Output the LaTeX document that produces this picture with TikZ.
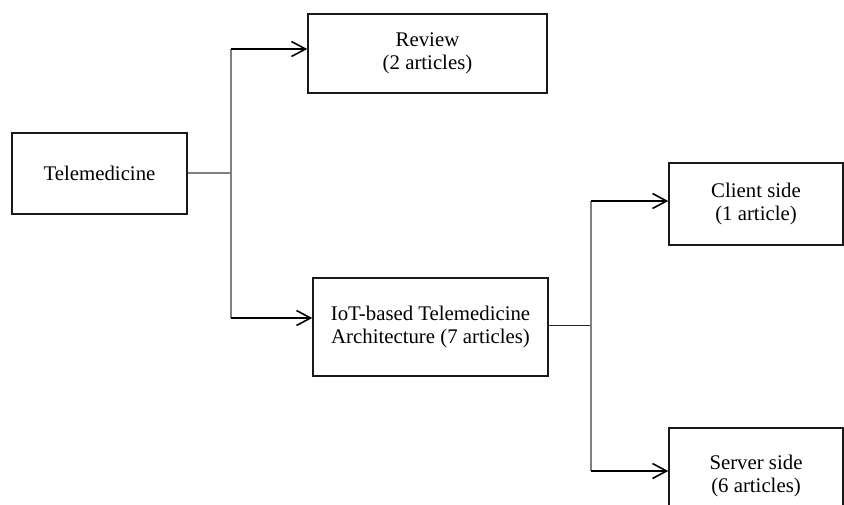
\documentclass[tikz,border=0pt]{standalone}
\usepackage{fontspec}
\setmainfont{Liberation Serif}
\usetikzlibrary{arrows.meta}
\begin{document}
\begin{tikzpicture}[x=1pt,y=-1pt,
  box/.style={draw=black!90, line width=1.6pt, fill=white, align=center,
    font=\fontsize{20.8}{23}\selectfont, inner sep=0pt},
  feed/.style={draw=black!50, line width=1.3pt},
  branch/.style={draw=black, line width=1.7pt,
    -{Straight Barb[length=14pt,width=15pt,line width=1.6pt]}},
  stub/.style={draw=black!85, line width=1pt}]
\clip (0,0) rectangle (844,504);
\fill[white] (0,0) rectangle (844,504);

% boxes
\node[box, minimum width=175pt, minimum height=81pt] (tele) at (99.5,173.5) {Telemedicine};
\node[box, minimum width=239pt, minimum height=79pt] (review) at (427.5,53.5) {Review\\(2 articles)};
\node[box, minimum width=235pt, minimum height=98pt] (iot) at (430.5,327) {IoT-based Telemedicine\\Architecture (7 articles)};
\node[box, minimum width=174pt, minimum height=82pt] (client) at (756,204) {Client side\\(1 article)};
\node[box, minimum width=174pt, minimum height=96pt] (server) at (756,476) {Server side\\(6 articles)};

% first split
\coordinate (s1) at (231,173);
\coordinate (s1top) at (231,49);
\coordinate (s1bot) at (231,318);
\draw[feed] (tele.east |- s1) -- (s1);
\draw[feed] (s1top) -- (s1bot);
\draw[branch] (s1top) -- (s1top -| review.west);
\draw[branch] (s1bot) -- (s1bot -| iot.west);

% second split
\coordinate (s2) at (591,325);
\coordinate (s2top) at (591,201);
\coordinate (s2bot) at (591,471);
\draw[stub] (iot.east |- s2) -- (s2);
\draw[feed] (s2top) -- (s2bot);
\draw[branch] (s2top) -- (s2top -| client.west);
\draw[branch] (s2bot) -- (s2bot -| server.west);
\end{tikzpicture}
\end{document}
